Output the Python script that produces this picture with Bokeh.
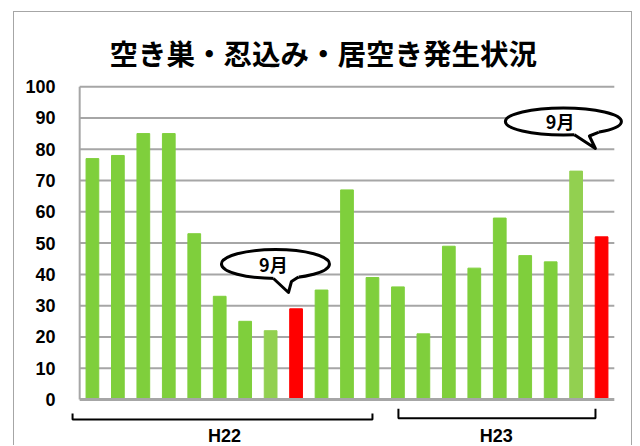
from bokeh.plotting import figure
from bokeh.models import FixedTicker, Spacer
from bokeh.layouts import row, column
from bokeh.core.properties import value
from bokeh.embed import file_html
from bokeh.resources import INLINE

# ---- data ----
title_text = "空き巣・忍込み・居空き発生状況"
months = ["1月", "2月", "3月", "4月", "5月", "6月", "7月", "8月", "9月", "10月", "11月", "12月",
          "1月", "2月", "3月", "4月", "5月", "6月", "7月", "8月", "9月"]
years = ["H22"] * 12 + ["H23"] * 9
counts = [77, 78, 85, 85, 53, 33, 25, 22, 29, 35, 67, 39,
          36, 21, 49, 42, 58, 46, 44, 73, 52]
highlight = [8, 20]          # the two September bars
light = [7, 19]              # slightly lighter green bars
y_ticks = [0, 10, 20, 30, 40, 50, 60, 70, 80, 90, 100]
callout_text = "9月"
groups = ["H22", "H23"]

# ---- styles ----
GREEN = "#7FCF3C"
LIGHT = "#92D050"
RED = "#FF0000"
GRID = "#A6A6A6"

xs = [i + 0.5 for i in range(len(counts))]
colors = []
for i in range(len(counts)):
    if i in highlight:
        colors.append(RED)
    elif i in light:
        colors.append(LIGHT)
    else:
        colors.append(GREEN)

X0, X1 = -0.4, 21.4
Y0, Y1 = -15, 101
FW, FH = 555, 363
SX = FW / (X1 - X0)
SY = FH / (Y1 - Y0)

p = figure(width=619, height=434, x_range=(X0, X1), y_range=(Y0, Y1),
           output_backend="svg", toolbar_location=None, x_axis_location=None,
           min_border_left=55, min_border_right=9, min_border_top=71, min_border_bottom=0)
p.styles = {"border-left": "1px solid #A6A6A6",
            "border-top": "1px solid #A6A6A6",
            "border-right": "1px solid #A6A6A6"}
p.outline_line_color = None
p.xgrid.visible = False
p.ygrid.visible = False
p.background_fill_color = "white"
p.border_fill_color = "white"

p.title.text = title_text
p.title.text_font = "Noto Sans CJK JP"
p.title.text_font_size = "28.5px"
p.title.text_font_style = "bold"
p.title.text_color = "black"
p.title.align = "left"
p.title.offset = 40
p.title.standoff = 22

ax = p.yaxis[0]
ax.ticker = FixedTicker(ticks=y_ticks)
ax.axis_line_color = None
ax.major_tick_line_color = None
ax.minor_tick_line_color = None
ax.major_label_standoff = 8
ax.major_label_text_font = "Liberation Sans"
ax.major_label_text_font_style = "bold"
ax.major_label_text_font_size = "18px"
ax.major_label_text_color = "black"

# gridlines
grid_nonzero = [t for t in y_ticks if t != 0]
p.segment(x0=[0] * len(grid_nonzero), x1=[len(counts)] * len(grid_nonzero),
          y0=grid_nonzero, y1=grid_nonzero, line_color=GRID, line_width=2)

# bars
p.vbar(x=xs, top=counts, bottom=0, width=0.5, fill_color=colors,
       line_color=colors, line_width=1)

# baseline and vertical axis line
p.segment(x0=[0], x1=[len(counts)], y0=[0], y1=[0], line_color=GRID, line_width=3)
p.segment(x0=[0], x1=[0], y0=[0], y1=[100], line_color=GRID, line_width=2)

# group brackets
n22 = years.count("H22")
brackets = [
    # (x_left, x_right, y_line, y_top)
    (-0.28, n22 - 0.5, -6.37, -4.45),
    (n22 + 0.52, len(counts) - 0.74, -5.96, -2.95),
]
for xl, xr, yl, yt in brackets:
    p.line(x=[xl, xl, xr, xr], y=[yt, yl, yl, yt], line_color="black", line_width=2)

p.text(x=[5.69, 16.36], y=[-11.6, -11.6], text=groups,
       text_font=value("Liberation Sans"), text_font_style="bold",
       text_font_size="18px", text_align="center", text_baseline="middle",
       text_color="black")

# callout bubbles
bubbles = [
    # center x, center y (data), width px, height px, tail offsets in px (dx, dy down)
    (7.69, 43.32, 108, 29, [(-2, 14.5), (13, 28.5), (16, 17.5), (23, 13.1)], (-0.08, -0.07)),
    (19.00, 88.86, 116, 27, [(11, 13.2), (32, 27), (26, 14.5), (35, 10.8)], (-0.13, 0.06)),
]
for cx, cy, wpx, hpx, tail, toff in bubbles:
    p.ellipse(x=[cx], y=[cy], width=wpx / SX, height=hpx / SY,
              fill_color="white", line_color="black", line_width=3)
    tx = [cx + dx / SX for dx, dy in tail]
    ty = [cy - dy / SY for dx, dy in tail]
    fx = [tx[0]] + tx + [tx[-1]]
    fy = [ty[0] + 5 / SY] + ty + [ty[-1] + 5 / SY]
    p.patch(x=fx, y=fy, fill_color="white", line_color=None)
    p.line(x=tx, y=ty, line_color="black", line_width=3, line_join="round")
    p.text(x=[cx + toff[0]], y=[cy + toff[1]], text=[callout_text],
           text_font=value("Noto Sans CJK JP"), text_font_style="bold",
           text_font_size="18px", text_align="center", text_baseline="middle",
           text_color="black")

layout = row(Spacer(width=13), column(Spacer(height=11), p))
open("out.html", "w").write(file_html(layout, INLINE))
